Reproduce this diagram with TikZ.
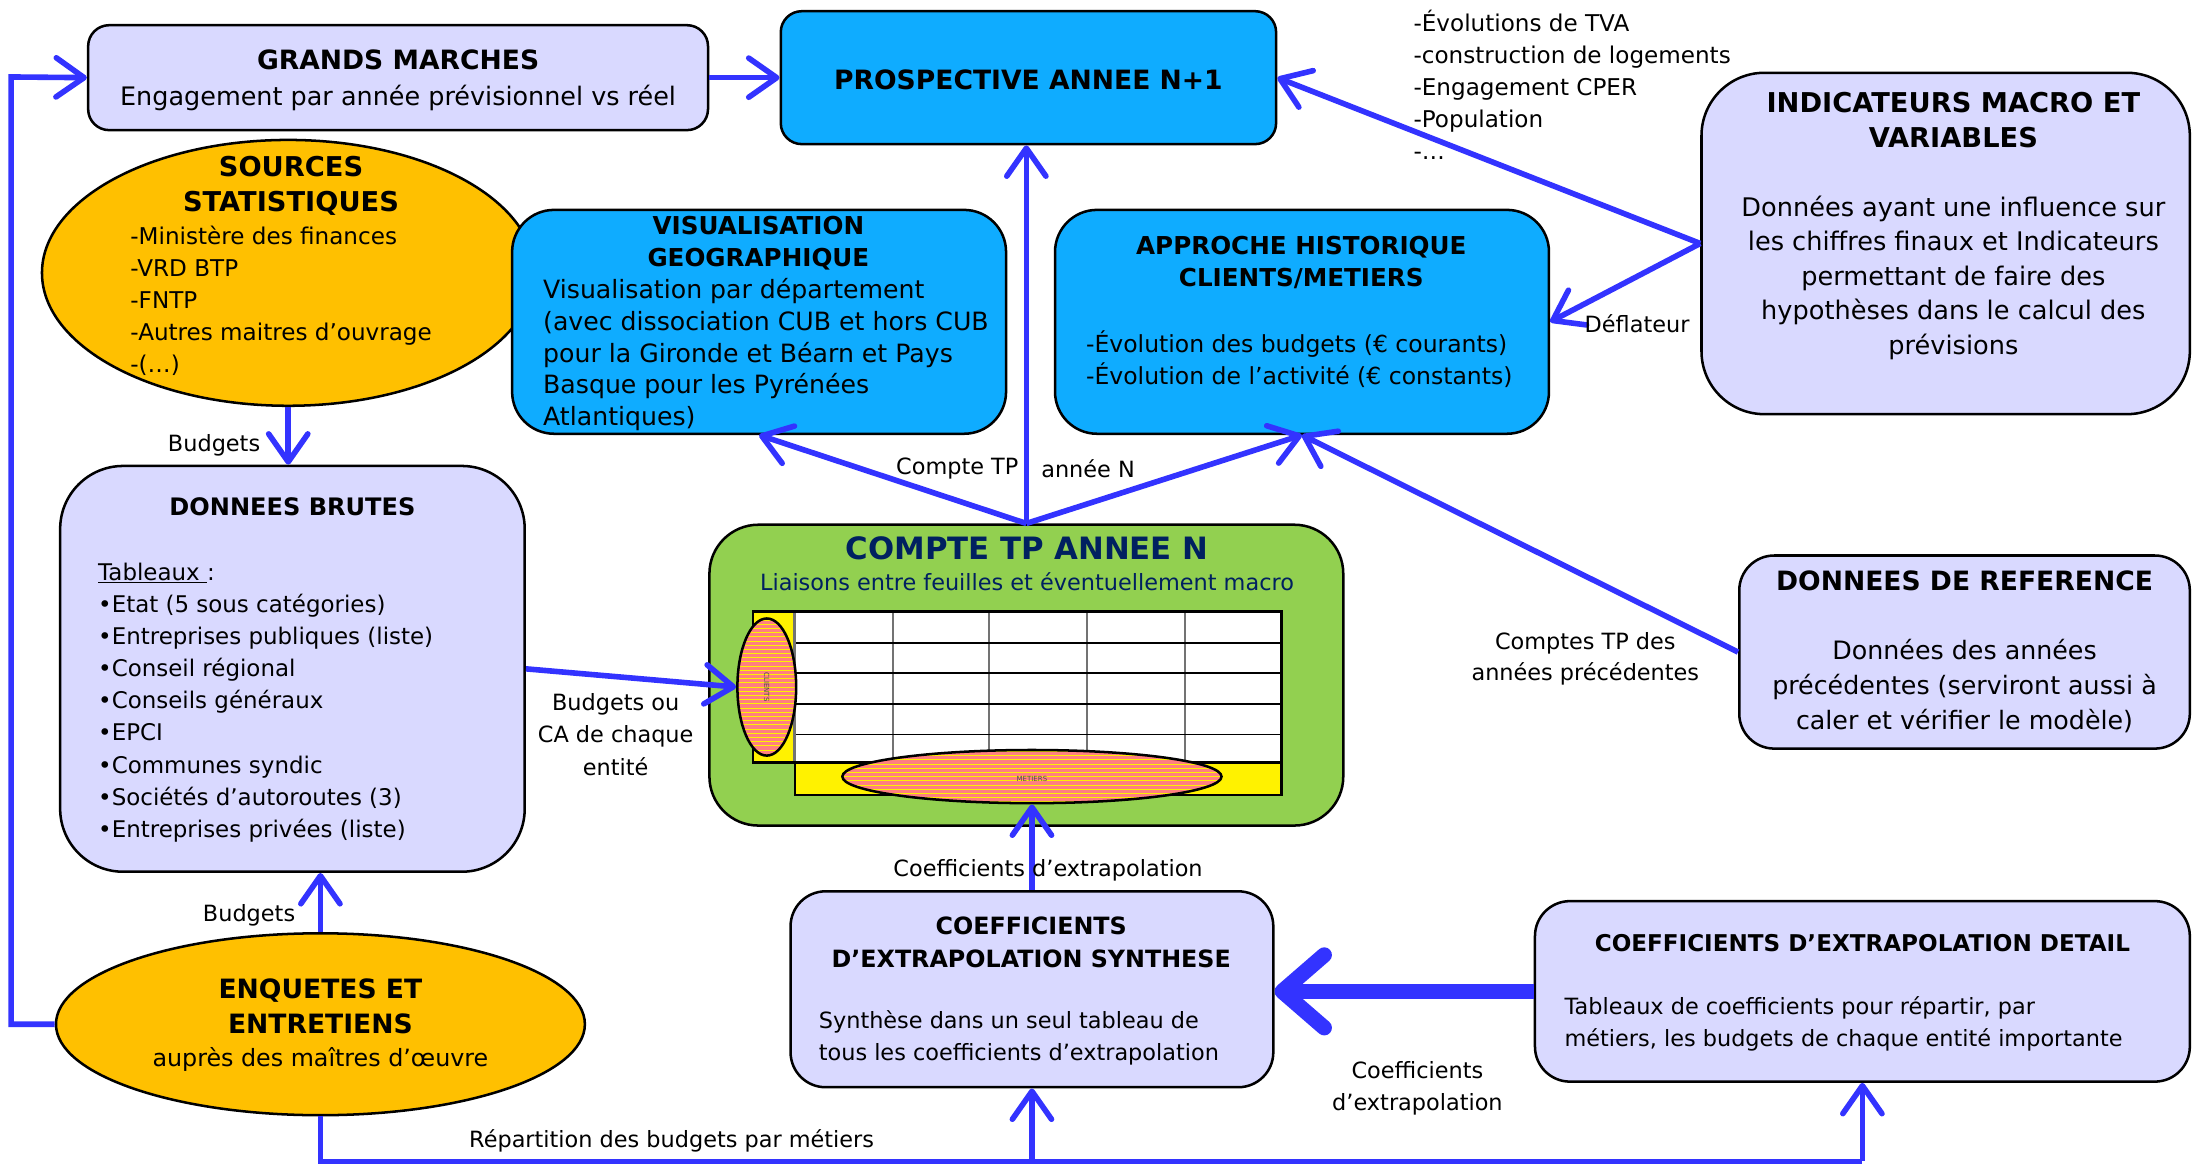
\documentclass[tikz,border=0pt]{standalone}
\usepackage{fontspec}
\setmainfont{DejaVu Sans}
\usetikzlibrary{arrows.meta,shapes.geometric}
\definecolor{lav}{RGB}{217,217,255}
\definecolor{skyb}{RGB}{15,172,255}
\definecolor{gold}{RGB}{255,192,0}
\definecolor{grn}{RGB}{146,208,80}
\definecolor{ablue}{RGB}{51,51,255}
\definecolor{navy}{RGB}{0,32,96}
\definecolor{salm}{RGB}{255,128,128}
\newcommand\fsz[2]{\fontsize{#1}{#2}\selectfont}
\begin{document}
\begin{tikzpicture}[x=1pt,y=-1pt,
  box/.style={draw=black,line width=1.8pt,rounded corners=#1,inner sep=0pt},
  oval/.style={ellipse,draw=black,line width=1.8pt,inner sep=0pt},
  txt/.style={inner sep=0pt,align=center},
  ltxt/.style={inner sep=0pt,align=left,anchor=west},
  arr/.style={draw=ablue,line width=4pt,-{Straight Barb[length=20pt,width=28pt,round]}},
  bigarr/.style={draw=ablue,line width=11pt,-{Straight Barb[length=30pt,width=52pt,round]}},
  bline/.style={draw=ablue,line width=4pt},
  hatch/.style={path picture={\foreach \k in {0,...,36}{\draw[yellow,line width=0.5pt]
     ([yshift=-\k*3pt-1pt]path picture bounding box.north west) -- ([yshift=-\k*3pt-1pt]path picture bounding box.north east);}}}
]
\useasboundingbox (0,0) rectangle (1568,832.6);

% ---------- boxes ----------
\node[box=15pt,fill=lav,minimum width=443pt,minimum height=75pt] (gm) at (284.5,55.5) {};
\node[txt,font=\fsz{19}{23}\bfseries] at (284.5,43) {GRANDS MARCHES};
\node[txt,font=\fsz{18.2}{23}] at (284.5,70) {Engagement par année prévisionnel vs réel};

\node[box=15pt,fill=skyb,minimum width=354pt,minimum height=95pt] (pr) at (735,55.5) {};
\node[txt,font=\fsz{19}{23}\bfseries] at (735,57) {PROSPECTIVE ANNEE N+1};

\node[ltxt,font=\fsz{16.5}{22.75}] at (1010,60.5) {-Évolutions de TVA\\-construction de logements\\-Engagement CPER\\-Population\\-…};

\node[box=45pt,fill=lav,minimum width=349pt,minimum height=244pt] (ind) at (1390.5,174) {};
\node[txt,font=\fsz{19.5}{25}\bfseries] at (1396,85.5) {INDICATEURS MACRO ET\\VARIABLES};
\node[txt,font=\fsz{18.3}{24.75}] at (1396,198.5) {Données ayant une influence sur\\les chiffres finaux et Indicateurs\\permettant de faire des\\hypothèses dans le calcul des\\prévisions};

\node[oval,fill=gold,minimum width=352pt,minimum height=190pt] (src) at (206,195) {};
\node[txt,font=\fsz{19.5}{25}\bfseries] at (208,132.5) {SOURCES\\STATISTIQUES};
\node[ltxt,font=\fsz{16.5}{23}] at (93,215) {-Ministère des finances\\-VRD BTP\\-FNTP\\-Autres maitres d’ouvrage\\-(…)};

\node[box=30pt,fill=skyb,minimum width=353pt,minimum height=160pt] (vis) at (542.5,230) {};
\node[txt,font=\fsz{17.6}{23}\bfseries] at (542,173.5) {VISUALISATION\\GEOGRAPHIQUE};
\node[ltxt,font=\fsz{18}{22.75}] at (388,253.5) {Visualisation par département\\(avec dissociation CUB et hors CUB\\pour la Gironde et Béarn et Pays\\Basque pour les Pyrénées\\Atlantiques)};

\node[box=30pt,fill=skyb,minimum width=353pt,minimum height=160pt] (app) at (930.5,230) {};
\node[txt,font=\fsz{17.6}{23}\bfseries] at (930,187.5) {APPROCHE HISTORIQUE\\CLIENTS/METIERS};
\node[ltxt,font=\fsz{16.8}{23}] at (776,256.5) {-Évolution des budgets (€ courants)\\-Évolution de l’activité (€ constants)};

\node[box=45pt,fill=lav,minimum width=332pt,minimum height=290pt] (db) at (209,478) {};
\node[txt,font=\fsz{17.2}{23}\bfseries] at (209,362) {DONNEES BRUTES};
\node[ltxt,font=\fsz{16.4}{23}] at (70,502) {\underline{Tableaux\ }:\\•Etat (5 sous catégories)\\•Entreprises publiques (liste)\\•Conseil régional\\•Conseils généraux\\•EPCI\\•Communes syndic\\•Sociétés d’autoroutes (3)\\•Entreprises privées (liste)};

\node[box=35pt,fill=grn,minimum width=453pt,minimum height=215pt] (ctp) at (733.5,482.5) {};
\node[txt,font=\fsz{22}{26}\bfseries,text=navy] at (734,392) {COMPTE TP ANNEE N};
\node[txt,font=\fsz{16}{20},text=navy] at (734,416) {Liaisons entre feuilles et éventuellement macro};

% table
\fill[yellow] (538,437) rectangle (568,545);
\fill[white] (568,437) rectangle (916,545);
\fill[yellow] (568,545) rectangle (916,568);
\foreach \xx in {638,707,777,847} \draw[black!55,line width=1.3pt] (\xx,437) -- (\xx,545);
\foreach \yy in {459.5,503,525} \draw[line width=1pt] (568,\yy) -- (916,\yy);
\draw[line width=1.8pt] (568,481) -- (916,481);
\draw[black!55,line width=2pt] (568,437) -- (568,545);
\draw[line width=1.8pt] (538,437) -- (916,437) -- (916,568) -- (568,568) -- (568,545) -- (538,545) -- cycle;
\draw[line width=1.8pt] (568,545) -- (916,545);

\node[oval,fill=salm,hatch,minimum width=42pt,minimum height=98pt] (el1) at (548,491) {};
\node[inner sep=0pt,rotate=-90,font=\fsz{5}{6},text=black!70] at (548,491) {CLIENTS};
\node[oval,fill=salm,hatch,minimum width=271pt,minimum height=38pt] (el2) at (737.5,555) {};
\node[inner sep=0pt,font=\fsz{5}{6},text=black!70] at (737.5,557) {METIERS};

\node[box=25pt,fill=lav,minimum width=322pt,minimum height=138pt] (dref) at (1404,466) {};
\node[txt,font=\fsz{19}{23}\bfseries] at (1404,415) {DONNEES DE REFERENCE};
\node[txt,font=\fsz{18.1}{25}] at (1404,490.5) {Données des années\\précédentes (serviront aussi à\\caler et vérifier le modèle)};

\node[oval,fill=gold,minimum width=378pt,minimum height=130pt] (enq) at (229,732) {};
\node[txt,font=\fsz{19}{25}\bfseries] at (229,719.5) {ENQUETES ET\\ENTRETIENS};
\node[txt,font=\fsz{17}{22}] at (229,757) {auprès des maîtres d’œuvre};

\node[box=25pt,fill=lav,minimum width=345pt,minimum height=140pt] (coef) at (737.5,707) {};
\node[txt,font=\fsz{17}{23}\bfseries] at (737,673.5) {COEFFICIENTS\\D’EXTRAPOLATION SYNTHESE};
\node[ltxt,font=\fsz{16}{23}] at (585,741.5) {Synthèse dans un seul tableau de\\tous les coefficients d’extrapolation};

\node[box=25pt,fill=lav,minimum width=468pt,minimum height=129pt] (det) at (1331,708.5) {};
\node[txt,font=\fsz{16.5}{23}\bfseries] at (1331,674) {COEFFICIENTS D’EXTRAPOLATION DETAIL};
\node[ltxt,font=\fsz{16}{23}] at (1118,731.5) {Tableaux de coefficients pour répartir, par\\métiers, les budgets de chaque entité importante};

% ---------- connectors ----------
\coordinate (lc) at (8,55);
\coordinate (bot) at (0,830);
\draw[arr] (enq.west) -| (lc) -- (gm.west);
\draw[arr] (gm.east) -- (pr.west);
\draw[arr] (src.south) -- (src.south |- db.north);
\draw[arr] (enq.north) -- (enq.north |- db.south);
\draw[arr] (db.east) -- (el1.west);
\draw[arr] (ctp.north) -- (ctp.north |- pr.south);
\draw[arr] (ctp.north) -- (vis.south);
\draw[arr] (ctp.north) -- (app.south);
\draw[arr] (dref.west) -- (app.south);
\draw[arr] (ind.west) -- (pr.east);
\draw[arr] (ind.west) -- (app.east);
\draw[arr] (coef.north) -- (el2.south);
\draw[bigarr] (det.west) -- (det.west -| coef.east);
\draw[bline] (enq.south) |- (bot -| det.south);
\draw[arr] (bot -| det.south) -- (det.south);
\draw[arr] (bot -| coef.south) -- (coef.south);

% ---------- labels ----------
\node[txt,font=\fsz{16}{22}] at (153,318) {Budgets};
\node[txt,font=\fsz{16}{22}] at (178,654) {Budgets};
\node[txt,font=\fsz{16}{23}] at (440,525) {Budgets ou\\CA de chaque\\entité};
\node[inner sep=0pt,anchor=east,font=\fsz{16}{22}] at (728,335) {Compte TP};
\node[inner sep=0pt,anchor=west,font=\fsz{16}{22}] at (744,335) {année N};
\node[txt,font=\fsz{16}{22}] at (1170,231) {Déflateur};
\node[txt,font=\fsz{16}{22.5}] at (1133,471) {Comptes TP des\\années précédentes};
\node[txt,font=\fsz{16}{22}] at (749,622) {Coefficients d’extrapolation};
\node[txt,font=\fsz{16}{23}] at (1013,777.5) {Coefficients\\d’extrapolation};
\node[txt,font=\fsz{16}{22}] at (480,815) {Répartition des budgets par métiers};
\end{tikzpicture}
\end{document}
